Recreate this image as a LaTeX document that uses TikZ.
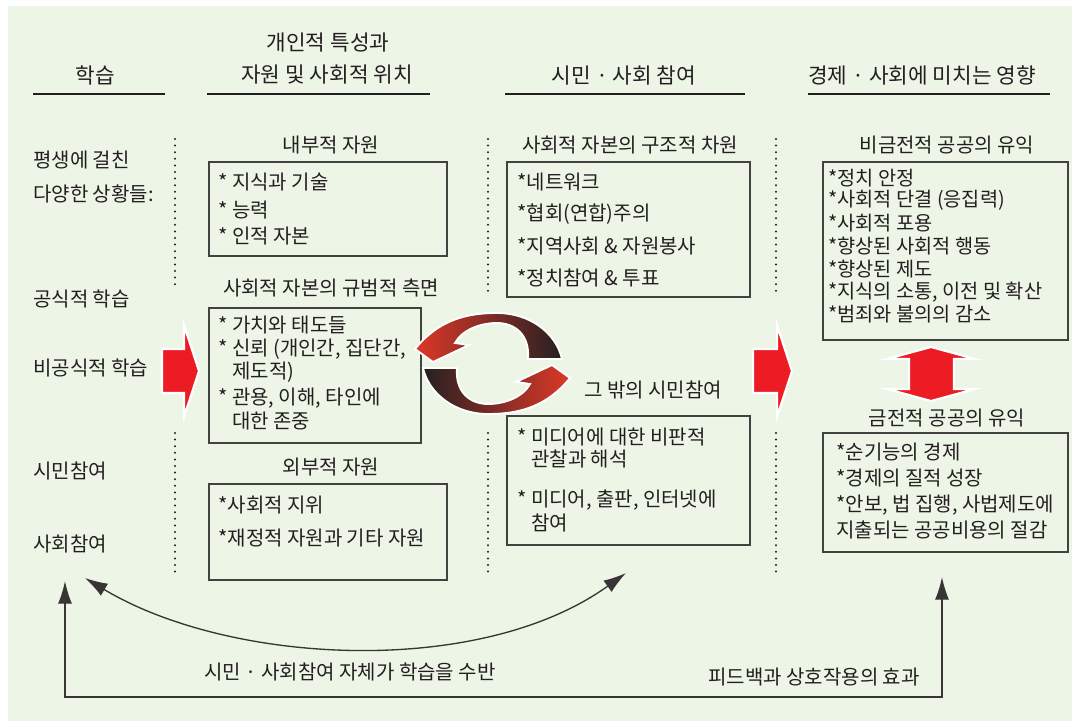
\documentclass[tikz,border=0pt]{standalone}
\usepackage{fontspec}
\setmainfont{Noto Sans CJK KR}
\usetikzlibrary{arrows.meta}
\definecolor{bg}{RGB}{237,245,230}
\definecolor{redarrow}{RGB}{237,28,36}
\definecolor{ink}{RGB}{35,31,32}
\definecolor{cred}{RGB}{222,56,40}
\definecolor{cmid}{RGB}{120,72,60}
\definecolor{cdark}{RGB}{38,32,34}
\begin{document}
\begin{tikzpicture}[x=0.75pt,y=-0.75pt,
  every node/.style={inner sep=0pt, text=ink},
  hd/.style={font=\fontsize{16}{18}\selectfont},
  tx/.style={font=\fontsize{15}{17}\selectfont, anchor=west},
  sm/.style={font=\fontsize{14.8}{16}\selectfont, anchor=west},
  boxline/.style={draw=ink!85, line width=0.85pt},
  rule/.style={draw=ink, line width=1.05pt},
  dots/.style={draw=ink, line width=1.7pt, line cap=round, dash pattern=on 0pt off 4.95pt},
  bigarrow/.style={fill=redarrow, draw=white, line width=1.6pt, line join=miter},
  ring/.style={draw=white, line width=1.4pt, line join=miter},
  conn/.style={draw=ink!90, line width=1pt, {Latex[length=17pt,width=10.5pt]}-{Latex[length=17pt,width=10.5pt]}},
]
\useasboundingbox (0,0) rectangle (1072,721);
\fill[bg] (8,6) rectangle (1072,721);

% column headers
\node[hd] (h1) at (95,75) {학습};
\draw[rule] (33,94) -- (165,94);
\node[hd] (h2a) at (328,43) {개인적 특성과};
\node[hd] (h2b) at (327,75) {자원 및 사회적 위치};
\draw[rule] (207,94) -- (430,94);
\node[hd] (h3) at (624,75) {시민 · 사회 참여};
\draw[rule] (505,94) -- (745,94);
\node[hd] (h4) at (922,75) {경제 · 사회에 미치는 영향};
\draw[rule] (808,94) -- (1050,94);

% left column
\node[tx] (l1) at (33,160) {평생에 걸친};
\node[tx] (l2) at (33,194) {다양한 상황들:};
\node[tx] (l3) at (33,299) {공식적 학습};
\node[tx] (l4) at (33,368) {비공식적 학습};
\node[tx] (l5) at (33,471) {시민참여};
\node[tx] (l6) at (33,544) {사회참여};

% dotted separators
\draw[dots] (175,139) -- (175,285);
\draw[dots] (175,433) -- (175,578);
\draw[dots] (488,139) -- (488,297);
\draw[dots] (488,433) -- (488,578);
\draw[dots] (776,139) -- (776,297);
\draw[dots] (776,433) -- (776,578);

% column 2
\node[tx,anchor=center] (s1) at (331,145) {내부적 자원};
\draw[boxline] (209,162) rectangle (447,256);
\node[tx] (a1) at (218,182) {* 지식과 기술};
\node[tx] (a2) at (218,210) {* 능력};
\node[tx] (a3) at (218,236) {* 인적 자본};

\node[tx,anchor=center] (s2) at (331,288) {사회적 자본의 규범적 측면};
\draw[boxline] (209,308) rectangle (421,443);
\node[tx] (b1) at (218,325) {* 가치와 태도들};
\node[tx] (b2) at (218,349) {* 신뢰 (개인간, 집단간,};
\node[tx] (b3) at (232,372) {제도적)};
\node[tx] (b4) at (218,398) {* 관용, 이해, 타인에};
\node[tx] (b5) at (232,421) {대한 존중};

\node[tx,anchor=center] (s3) at (331,467) {외부적 자원};
\draw[boxline] (209,484) rectangle (447,580);
\node[tx] (c1) at (218,505) {*사회적 지위};
\node[tx] (c2) at (218,538) {*재정적 자원과 기타 자원};

% column 3
\node[tx,anchor=center] (s4) at (630,145) {사회적 자본의 구조적 차원};
\draw[boxline] (507,162) rectangle (750,297);
\node[tx] (d1) at (517,182) {*네트워크};
\node[tx] (d2) at (517,214) {*협회(연합)주의};
\node[tx] (d3) at (517,246) {*지역사회 \& 자원봉사};
\node[tx] (d4) at (517,278) {*정치참여 \& 투표};

\node[tx,anchor=center] (s5) at (653,390) {그 밖의 시민참여};
\draw[boxline] (507,416) rectangle (750,545);
\node[tx] (e1) at (517,437) {* 미디어에 대한 비판적};
\node[tx] (e2) at (531,459) {관찰과 해석};
\node[tx] (e3) at (517,500) {* 미디어, 출판, 인터넷에};
\node[tx] (e4) at (531,523) {참여};

% column 4
\node[tx,anchor=center] (s6) at (947,145) {비금전적 공공의 유익};
\draw[boxline] (823,162) rectangle (1068,340);
\node[sm] (f1) at (828,178) {*정치 안정};
\node[sm] (f2) at (828,200) {*사회적 단결 (응집력)};
\node[sm] (f3) at (828,223) {*사회적 포용};
\node[sm] (f4) at (828,246) {*향상된 사회적 행동};
\node[sm] (f5) at (828,269) {*향상된 제도};
\node[sm] (f6) at (828,292) {*지식의 소통, 이전 및 확산};
\node[sm] (f7) at (828,314) {*범죄와 불의의 감소};

\node[tx,anchor=center] (s7) at (947,418) {금전적 공공의 유익};
\draw[boxline] (823,433) rectangle (1068,552);
\node[tx] (g1) at (836,452) {*순기능의 경제};
\node[tx] (g2) at (836,478) {*경제의 질적 성장};
\node[tx] (g3) at (836,505) {*안보, 법 집행, 사법제도에};
\node[tx] (g4) at (836,530) {지출되는 공공비용의 절감};

% red block arrows
\draw[bigarrow] (162,349) -- (184,349) -- (184,325) -- (199,371) -- (184,417) -- (184,393) -- (162,393) -- cycle;
\draw[bigarrow] (753,349) -- (777,349) -- (777,325) -- (792,371) -- (777,417) -- (777,393) -- (753,393) -- cycle;
\draw[bigarrow] (909,359) -- (887,359) -- (931,347) -- (975,359) -- (954,359) -- (954,389) -- (975,389) -- (931,401) -- (887,389) -- (909,389) -- cycle;

% circular arrows
\shadedraw[ring, left color=cred, middle color=cmid, right color=cdark]
  (415,349) .. controls (440,318) and (470,313) .. (497,313)
  .. controls (530,313) and (556,333) .. (562,359)
  -- (528,359)
  .. controls (530,335) and (515,323) .. (497,323)
  .. controls (480,323) and (462,330) .. (455,343)
  -- (469,345) -- (433,362) -- cycle;
\shadedraw[ring, left color=cdark, middle color=cmid, right color=cred]
  (570,378) .. controls (545,409) and (515,414) .. (488,414)
  .. controls (455,414) and (429,394) .. (423,368)
  -- (457,368)
  .. controls (455,392) and (470,404) .. (488,404)
  .. controls (505,404) and (523,397) .. (530,384)
  -- (516,382) -- (552,365) -- cycle;

% feedback connectors
\coordinate (fL) at (65,581);
\coordinate (fBL) at (65,697);
\coordinate (fBR) at (942,697);
\coordinate (fR) at (942,577);
\draw[conn] (fL) -- (fBL) -- (fBR) -- (fR);
\coordinate (cL) at (85,578);
\coordinate (cR) at (626,573);
\draw[conn] (cL) .. controls (230,665) and (480,678) .. (cR);
\node[tx,anchor=center] (n1) at (350,672) {시민 · 사회참여 자체가 학습을 수반};
\node[tx,anchor=center] (n2) at (814,677) {피드백과 상호작용의 효과};
\end{tikzpicture}
\end{document}
